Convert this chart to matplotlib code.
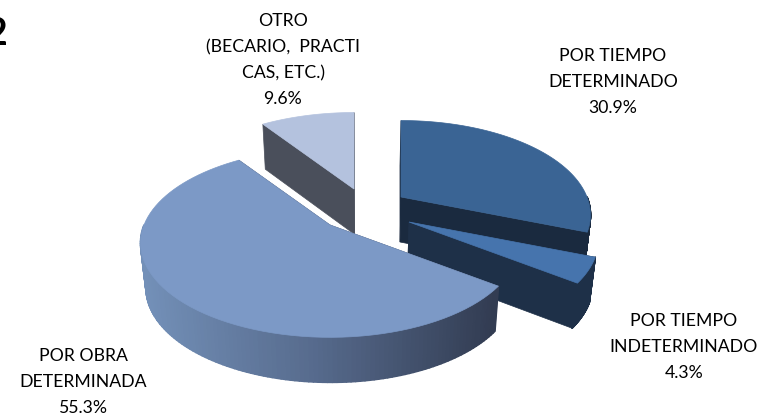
import numpy as np
import matplotlib.pyplot as plt
from matplotlib.patches import Polygon
from matplotlib.collections import PolyCollection
from matplotlib.colors import LinearSegmentedColormap

plt.rcParams['font.family'] = ['Lato', 'DejaVu Sans']

# data, clockwise from 12 o'clock
labels = ["POR TIEMPO\nDETERMINADO", "POR TIEMPO\nINDETERMINADO", "POR OBRA\nDETERMINADA", "OTRO\n(BECARIO,  PRACTI\nCAS, ETC.)"]
values = [30.9, 4.3, 55.3, 9.6]

# layout, in pixels
top_colors = ['#3a6494', '#4674ad', '#7c99c6', '#b4c2de']
side_colors = ['#1a2a3f', '#1e3048', '#39445c', '#4a4f5b']
centers_x = [401, 409, 330, 354]
centers_y = [197, 222, 225, 189]
label_x = [613, 684, 83, 283]
label_y = [82, 347, 382, 60]
rx, ry, k = 186, 91, 0.19
depth = 45

def project(cx, cy, ang):
    # ang in degrees clockwise from north, tilted pie with some perspective
    a = np.radians(ang)
    u, v = np.sin(a), np.cos(a)
    w = 1 + k * v
    return cx + rx * u / w, cy - ry * v / w

def lower(x, y):
    return x - 0.025 * (x - 360), y + depth

def arc(cx, cy, a0, a1):
    t = np.linspace(a0, a1, 80)
    return project(cx, cy, t)

fig = plt.figure(figsize=(7.68, 4.2), dpi=100)
ax = fig.add_axes([0, 0, 1, 1])
ax.set_xlim(0, 768)
ax.set_ylim(420, 0)
ax.axis('off')

edges = np.concatenate([[0], np.cumsum(values)]) / np.sum(values) * 360
shade = LinearSegmentedColormap.from_list('shade', ['#7390b8', '#566a8c', '#323c52'])

# back to front
for i in [0, 3, 1, 2]:
    cx, cy = centers_x[i], centers_y[i]
    a0, a1 = edges[i], edges[i + 1]
    ax_, ay_ = arc(cx, cy, a0, a1)

    # cut faces
    for a in (a0, a1):
        ex, ey = project(cx, cy, a)
        x2, y2 = lower(np.array([cx, ex]), np.array([cy, ey]))
        ax.add_patch(Polygon([(cx, cy), (ex, ey), (x2[1], y2[1]), (x2[0], y2[0])],
                             fc=side_colors[i], ec=side_colors[i], lw=0.5))

    # outer wall, only where it faces the viewer
    lo, hi = max(a0, 90), min(a1, 270)
    if hi > lo:
        t = np.linspace(lo, hi, 120)
        x, y = project(cx, cy, t)
        xb, yb = lower(x, y)
        quads = []
        cols = []
        for j in range(len(t) - 1):
            quads.append([(x[j], y[j]), (x[j + 1], y[j + 1]), (xb[j + 1], yb[j + 1]), (xb[j], yb[j])])
            if i == 2:
                cols.append(shade((x[j] - 142) / (496 - 142)))
            else:
                cols.append(side_colors[i])
        ax.add_collection(PolyCollection(quads, facecolors=cols, edgecolors=cols, linewidths=1.2))

    # top
    pts = [(cx, cy)] + list(zip(ax_, ay_))
    ax.add_patch(Polygon(pts, fc=top_colors[i], ec=top_colors[i], lw=0.5, zorder=3))

for i in range(len(values)):
    ax.text(label_x[i], label_y[i], "%s\n%.1f%%" % (labels[i], values[i]), ha='center', va='center',
            fontsize=12.7, color='black', linespacing=1.76, zorder=5)

ax.text(7, 34, "2", ha='right', va='center', fontsize=27, fontweight='bold', color='black')

fig.savefig('out.png', dpi=100)
